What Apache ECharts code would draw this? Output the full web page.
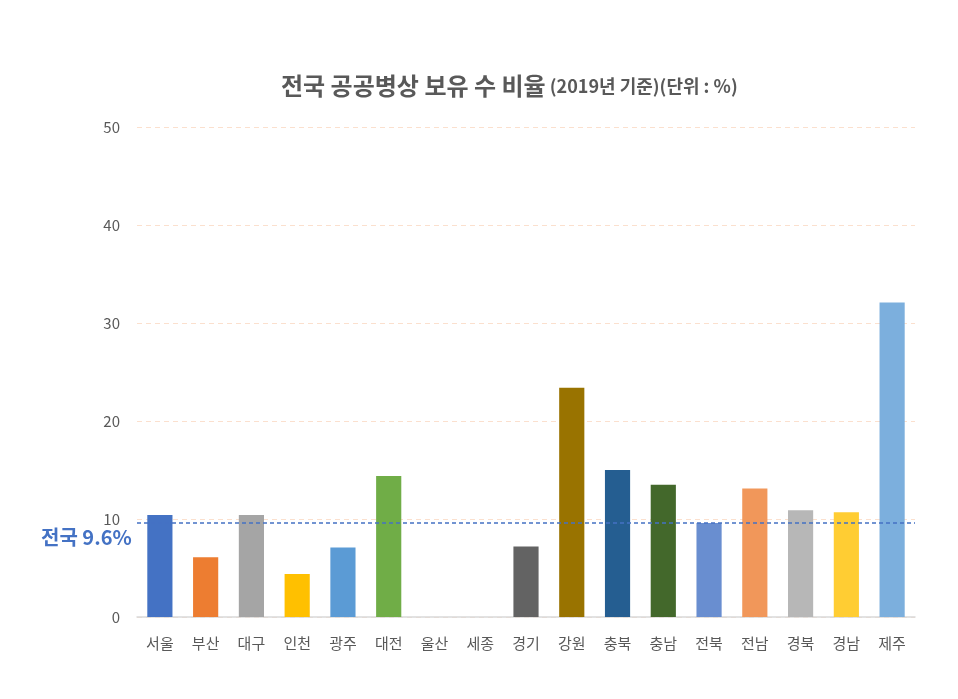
<!DOCTYPE html>
<html>
<head>
	<meta charset="UTF-8">
	<title>전국 공공병상 보유 수 비율</title>
	<script src="https://cdn.jsdelivr.net/npm/echarts@6/dist/echarts.min.js"></script>
	<style>
		html, body { margin: 0; padding: 0; background: #fff; }
		#main { width: 958px; height: 699px; }
	</style>
</head>
<body>
	<div id="main"></div>
	<script>

	// 지역별 공공병상 보유 비율 (%)
	var regions = ['서울', '부산', '대구', '인천', '광주', '대전', '울산', '세종', '경기',
		'강원', '충북', '충남', '전북', '전남', '경북', '경남', '제주'];
	var ratios = [10.4, 6.1, 10.4, 4.4, 7.1, 14.4, 0, 0, 7.2,
		23.4, 15.0, 13.5, 9.6, 13.1, 10.9, 10.7, 32.1];
	var nationalAvg = 9.6;
	var yTicks = [0, 10, 20, 30, 40, 50];

	var colorArray = ['#4472c4', '#ed7d31', '#a5a5a5', '#ffc000', '#5b9bd5', '#70ad47',
		'#264478', '#9e480e', '#636363', '#997300', '#255e91', '#43682b',
		'#698ed0', '#f1975a', '#b7b7b7', '#ffcd33', '#7cafdd'];

	var fontFamily = '"Noto Sans CJK KR", "Noto Sans", sans-serif';

	var barData = [];
	for (var i = 0; i < ratios.length; i++) {
		barData.push({
			value: ratios[i],
			itemStyle: { color: colorArray[i % colorArray.length] }
		});
	}

	var option = {
		textStyle: { fontFamily: fontFamily },
		animation: false,
		title: [{
			text: '{main|전국 공공병상 보유 수 비율} {sub|(2019년 기준)(단위 : %)}',
			left: 276,
			top: 69,
			textStyle: {
				rich: {
					main: { fontSize: 24, fontWeight: 'bold', color: '#595959', fontFamily: fontFamily },
					sub: { fontSize: 18, color: '#595959', fontFamily: fontFamily }
				}
			}
		}, {
			text: '전국 ' + nationalAvg + '%',
			left: 36,
			top: 522,
			textStyle: { fontSize: 20, fontWeight: 'bold', color: '#4472c4', fontFamily: fontFamily }
		}],
		grid: {
			left: 137,
			right: 43,
			top: 127,
			bottom: 82
		},
		xAxis: {
			type: 'category',
			data: regions,
			axisTick: { show: false },
			axisLine: { lineStyle: { color: '#d9d9d9', width: 1.5 } },
			axisLabel: { color: '#595959', fontSize: 15, margin: 19 }
		},
		yAxis: {
			type: 'value',
			min: yTicks[0],
			max: yTicks[yTicks.length - 1],
			interval: 10,
			axisLine: { show: false },
			axisTick: { show: false },
			axisLabel: { color: '#595959', fontSize: 15, margin: 17 },
			splitLine: { lineStyle: { color: '#f8cbad', type: [5, 4], width: 1, opacity: 0.6 } }
		},
		series: [{
			type: 'bar',
			data: barData,
			barWidth: '55%',
			markLine: {
				silent: true,
				symbol: ['none', 'none'],
				label: { show: false },
				lineStyle: { color: '#4472c4', type: [4, 3], width: 1.5 },
				data: [{ yAxis: nationalAvg }]
			}
		}]
	};

	var myChart = echarts.init(document.getElementById('main'));
	myChart.setOption(option);
	</script>
</body>
</html>
